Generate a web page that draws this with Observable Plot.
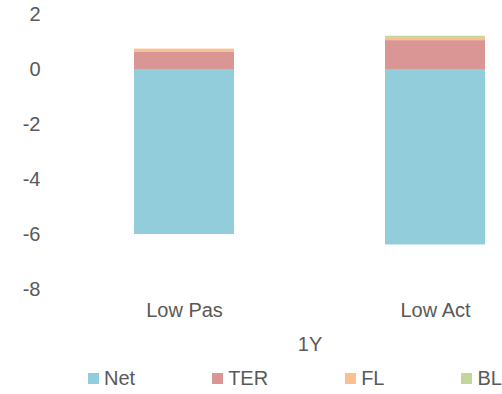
<!DOCTYPE html>
<html>
<head>
<meta charset="utf-8">
<script src="https://cdn.jsdelivr.net/npm/d3@7"></script>
<script src="https://cdn.jsdelivr.net/npm/@observablehq/plot@0.6"></script>
<style>
  html, body { margin: 0; padding: 0; background: #fff; }
  #chart { width: 502px; }
  .lg-swatches { font-family: "Liberation Sans", Arial, sans-serif; font-size: 20px; color: #595959; margin: 0; padding-left: 88px; min-height: 33px; flex-wrap: nowrap; white-space: nowrap; }
  .lg-swatch { margin-right: 77px; }
  .lg-swatch:last-child { margin-right: 0; }
  .lg-swatch svg { margin-right: 5px; }
</style>
</head>
<body>
<div id="chart"></div>
<script>
const categories = ["Low Pas", "Low Act"];
const seriesNames = ["Net", "TER", "FL", "BL"];
const netValues = [-6.0, -6.38];
const terValues = [0.62, 1.05];
const flValues = [0.12, 0.11];
const blValues = [0.0, 0.05];
const colors = ["#92CDDC", "#D99694", "#FAC090", "#C3D69B"];
const yTicks = [2, 0, -2, -4, -6, -8];
const xLabel = "1Y";

const seriesValues = [netValues, terValues, flValues, blValues];
const rows = [];
categories.forEach((c, i) => {
  seriesNames.forEach((s, j) => rows.push({category: c, series: s, value: seriesValues[j][i]}));
});

const textColor = "#595959";
const font = '"Liberation Sans", Arial, sans-serif';

const plot = Plot.plot({
  width: 502,
  height: 362,
  marginTop: 14,
  marginBottom: 73,
  marginLeft: 117,
  marginRight: 0,
  style: {fontFamily: font, fontSize: "20px", color: textColor, background: "#fff"},
  x: {domain: categories, paddingInner: 0.6032, paddingOuter: 0.0655, align: 0.5},
  y: {domain: [-8, 2]},
  color: {domain: seriesNames, range: colors},
  marks: [
    Plot.barY(rows, Plot.stackY({
      x: "category", y: "value", fill: "series",
      order: seriesNames, insetLeft: 0, insetRight: 0
    })),
    Plot.axisX({tickSize: 0, tickPadding: 13, label: null}),
    Plot.axisY({ticks: yTicks, tickSize: 0, tickPadding: 77, tickFormat: d => String(d), label: null}),
    Plot.text([xLabel], {frameAnchor: "bottom", lineAnchor: "top", dy: 47, fill: textColor, fontSize: 20})
  ]
});

const legend = Plot.legend({
  color: {domain: seriesNames, range: colors},
  legend: "swatches",
  swatchSize: 11,
  className: "lg"
});

const chart = document.getElementById("chart");
chart.appendChild(plot);
chart.appendChild(legend);
</script>
</body>
</html>
